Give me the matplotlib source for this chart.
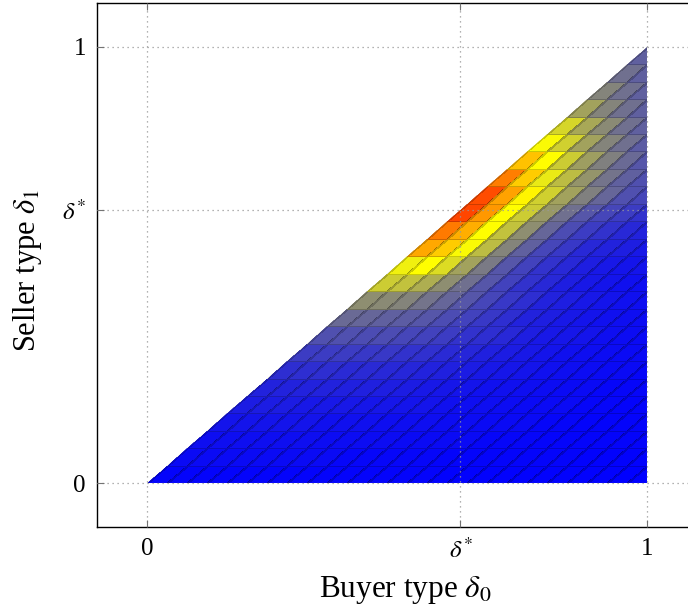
import numpy as np
import matplotlib
matplotlib.use("Agg")
import matplotlib.pyplot as plt
from matplotlib import colors
from matplotlib.patches import Polygon

delta_star = 0.627
n_cells = 25

# one list per row of seller type (bottom row first); each row starts at the
# diagonal delta_1 = delta_0 and runs right up to delta_0 = 1
rows = [
    [0.01, 0.01, 0.01, 0.01, 0.01, 0.01, 0.01, 0.01, 0.01, 0.01, 0.008, 0.008, 0.008,
     0.008, 0.006, 0.006, 0.006, 0.006, 0.005, 0.005, 0.004, 0.004, 0.004, 0.003, 0.003],
    [0.02, 0.02, 0.02, 0.02, 0.02, 0.02, 0.02, 0.02, 0.015, 0.015, 0.015, 0.015, 0.015,
     0.01, 0.01, 0.01, 0.01, 0.01, 0.01, 0.01, 0.005, 0.005, 0.005, 0.005],
    [0.03, 0.03, 0.03, 0.03, 0.03, 0.03, 0.025, 0.025, 0.025, 0.025, 0.02, 0.02, 0.02,
     0.02, 0.015, 0.015, 0.015, 0.01, 0.01, 0.01, 0.01, 0.01, 0.01],
    [0.04, 0.04, 0.04, 0.04, 0.04, 0.035, 0.035, 0.035, 0.03, 0.03, 0.03, 0.025, 0.025,
     0.02, 0.02, 0.02, 0.015, 0.015, 0.01, 0.01, 0.01, 0.01],
    [0.055, 0.055, 0.055, 0.05, 0.05, 0.05, 0.045, 0.045, 0.04, 0.04, 0.035, 0.03, 0.03,
     0.025, 0.02, 0.02, 0.02, 0.015, 0.015, 0.01, 0.01],
    [0.07, 0.07, 0.07, 0.07, 0.065, 0.065, 0.06, 0.055, 0.05, 0.045, 0.04, 0.035, 0.035,
     0.03, 0.025, 0.02, 0.02, 0.015, 0.015, 0.015],
    [0.09, 0.09, 0.09, 0.085, 0.085, 0.08, 0.075, 0.07, 0.065, 0.055, 0.05, 0.045, 0.04,
     0.035, 0.03, 0.025, 0.02, 0.02, 0.015],
    [0.12, 0.12, 0.12, 0.11, 0.11, 0.1, 0.095, 0.085, 0.075, 0.065, 0.055, 0.05, 0.04,
     0.035, 0.03, 0.025, 0.02, 0.02],
    [0.16, 0.16, 0.15, 0.15, 0.14, 0.13, 0.12, 0.1, 0.09, 0.08, 0.06, 0.05, 0.045,
     0.04, 0.03, 0.025, 0.02],
    [0.21, 0.2, 0.19, 0.18, 0.17, 0.15, 0.13, 0.11, 0.09, 0.07, 0.06, 0.05, 0.04,
     0.035, 0.03, 0.025],
    [0.28, 0.27, 0.26, 0.23, 0.2, 0.17, 0.14, 0.11, 0.09, 0.07, 0.06, 0.05, 0.04,
     0.035, 0.03],
    [0.4, 0.38, 0.34, 0.28, 0.22, 0.17, 0.13, 0.1, 0.08, 0.06, 0.05, 0.04, 0.035, 0.03],
    [0.47, 0.5, 0.43, 0.32, 0.24, 0.17, 0.13, 0.1, 0.08, 0.06, 0.05, 0.04, 0.04],
    [0.67, 0.6, 0.49, 0.37, 0.26, 0.19, 0.14, 0.11, 0.08, 0.07, 0.06, 0.05],
    [0.76, 0.66, 0.5, 0.38, 0.28, 0.2, 0.15, 0.12, 0.1, 0.08, 0.07],
    [0.86, 0.7, 0.5, 0.4, 0.3, 0.22, 0.17, 0.14, 0.12, 0.1],
    [0.85, 0.68, 0.52, 0.41, 0.32, 0.25, 0.2, 0.16, 0.14],
    [0.75, 0.6, 0.46, 0.37, 0.29, 0.23, 0.19, 0.16],
    [0.62, 0.5, 0.4, 0.31, 0.25, 0.21, 0.17],
    [0.49, 0.41, 0.32, 0.26, 0.22, 0.18],
    [0.42, 0.33, 0.27, 0.22, 0.19],
    [0.32, 0.26, 0.22, 0.19],
    [0.26, 0.22, 0.19],
    [0.22, 0.19],
    [0.19],
]

tick_pos = [0, delta_star, 1]
tick_labels = ["0", r"$\delta^{*}$", "1"]

plt.rcParams["font.family"] = "Liberation Serif"
plt.rcParams["mathtext.fontset"] = "stix"

C = np.full((n_cells, n_cells), np.nan)
for i, row in enumerate(rows):
    C[i, :len(row)] = row
C = np.ma.masked_invalid(C)

# mesh nodes: rows of constant delta_1, columns along delta_0 - delta_1
k = np.linspace(0, 1, n_cells + 1)
Y, D = np.meshgrid(k, k, indexing="ij")
X = Y + D

cmap = colors.LinearSegmentedColormap.from_list(
    "byr", [(0, 0, 1), (1, 1, 0), (1, 0, 0)])

fig = plt.figure(figsize=(6.88, 6.10), dpi=100)
# right spine sits past the edge of the picture, as in the original
ax = fig.add_axes([97 / 688, 83 / 610, 600 / 688, 524 / 610])

mesh = ax.pcolormesh(X, Y, C, cmap=cmap, norm=colors.Normalize(0, 1),
                     edgecolors=(0, 0, 0, 0.2), linewidth=0.6, zorder=1)
tri = Polygon([(0, 0), (1, 0), (1, 1)], closed=True, transform=ax.transData)
mesh.set_clip_path(tri)

ax.set_xlim(-0.1, 1.1)
ax.set_ylim(-0.1, 1.1)
ax.set_xticks(tick_pos)
ax.set_xticklabels(tick_labels)
ax.set_yticks(tick_pos)
ax.set_yticklabels(tick_labels)
ax.tick_params(direction="in", top=True, right=True, length=5, width=0.8,
               color="0.45", labelsize=18, pad=8)
ax.set_axisbelow(False)
ax.grid(True, color="0.6", linestyle=(0, (1, 3)), linewidth=0.9)
for s in ax.spines.values():
    s.set_linewidth(1.0)

ax.set_xlabel(r"Buyer type $\delta_0$", fontsize=22.5)
ax.set_ylabel(r"Seller type $\delta_1$", fontsize=22)
ax.xaxis.set_label_coords(0.513, -0.09)
ax.yaxis.set_label_coords(-0.088, 0.49)

fig.savefig("out.png", dpi=100)
